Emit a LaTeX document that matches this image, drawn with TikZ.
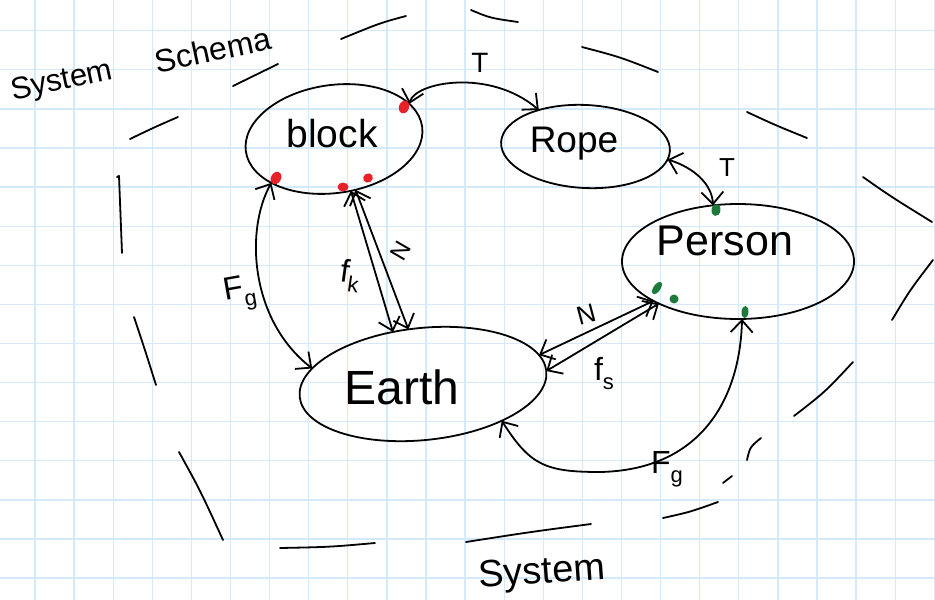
\documentclass[tikz,border=0pt]{standalone}
\usepackage{fontspec}
\setmainfont{Liberation Sans}
\usetikzlibrary{shapes.geometric,arrows.meta}
\definecolor{gridblue}{RGB}{212,234,250}
\definecolor{inkred}{RGB}{232,32,40}
\definecolor{inkgreen}{RGB}{30,122,58}
\newcommand\penfont[1]{\fontsize{#1}{#1}\selectfont}
\newcommand\lowidx[1]{\raisebox{-0.28em}{\penfont{22}#1}}
\begin{document}
\begin{tikzpicture}[x=1pt,y=-1pt,
  gridline/.style={draw=gridblue, line width=1.3pt},
  pen/.style={line width=1.8pt, line cap=round, line join=round},
  body/.style={pen, draw, ellipse, inner sep=0pt, outer sep=0pt},
  link/.style={pen, draw, arrows={Straight Barb[length=12pt,width=22pt]-Straight Barb[length=12pt,width=22pt]}},
  hand/.style={inner sep=0pt, outer sep=0pt}]

% paper
\fill[white] (0,0) rectangle (935,600);
\useasboundingbox (0,0) rectangle (935,600);
\foreach \i in {0,...,23} \draw[gridline] ({35+39.1*\i},0) -- ({35+39.1*\i},600);
\foreach \j in {0,...,14} \draw[gridline] (0,{30.7+39.1*\j}) -- (935,{30.7+39.1*\j});

% objects of the system
\node[body, minimum width=178pt, minimum height=108pt, rotate=8] (block) at (334,139) {};
\node[body, minimum width=169pt, minimum height=83pt, rotate=-3] (rope) at (585.5,146.5) {};
\node[body, minimum width=232pt, minimum height=115pt] (person) at (738,261.5) {};
\node[body, minimum width=248pt, minimum height=112pt, rotate=6] (earth) at (423,384) {};

\node[hand, font=\penfont{39}] (blocktxt) at (332,134) {block};
\node[hand, font=\penfont{37}] (ropetxt) at (574,144) {Rope};
\node[hand, font=\penfont{43}] (persontxt) at (725,241) {Person};
\node[hand, font=\penfont{48}] (earthtxt) at (402,387) {Earth};

% interactions
\draw[link] (block.17) .. controls (415,82) and (490,68) .. (rope.145);
\draw[link] (rope.-6) .. controls (695,168) and (712,185) .. (person.114);
\draw[link] (block.207) .. controls (245,230) and (250,320) .. (earth.166);
\draw[link] (block.-80) -- (earth.114);
\draw[link] (block.-75) -- (earth.99);
\draw[link] (earth.8) -- (person.205);
\draw[link] (earth.0) -- (person.208);
\draw[link] (earth.-31) .. controls (530,465) and (545,472) .. (600,472)
  .. controls (700,470) and (740,400) .. (person.-86);

% force labels
\node[hand, font=\penfont{28}] (tA) at (480,63) {T};
\node[hand, font=\penfont{26}] (tB) at (727,168) {T};
\node[hand, font=\penfont{32}, rotate=10] (fgA) at (240,294) {F\lowidx{g}};
\node[hand, font=\penfont{32}, rotate=-8] (fk) at (350,276) {f\lowidx{k}};
\node[hand, font=\penfont{24}, rotate=60] (nA) at (401,251) {N};
\node[hand, font=\penfont{26}, rotate=15] (nB) at (586,314) {N};
\node[hand, font=\penfont{32}] (fs) at (604,374) {f\lowidx{s}};
\node[hand, font=\penfont{32}] (fgB) at (667,469) {F\lowidx{g}};

% contact points
\fill[inkred, rotate around={70:(404,107)}] (404,107) ellipse [x radius=6.5pt, y radius=5pt];
\fill[inkred, rotate around={60:(276,178)}] (276,178) ellipse [x radius=6.5pt, y radius=5pt];
\fill[inkred] (343,187) ellipse [x radius=5.5pt, y radius=4.5pt];
\fill[inkred, rotate around={30:(368,178)}] (368,178) ellipse [x radius=5pt, y radius=4.5pt];
\fill[inkgreen, rotate around={80:(716,210)}] (716,210) ellipse [x radius=6pt, y radius=4.5pt];
\fill[inkgreen, rotate around={55:(657,288)}] (657,288) ellipse [x radius=7pt, y radius=3.5pt];
\fill[inkgreen] (674,299) ellipse [x radius=4.5pt, y radius=4.5pt];
\fill[inkgreen, rotate around={85:(745,312)}] (745,312) ellipse [x radius=6pt, y radius=3.5pt];

% system boundary
\begin{scope}[pen]
\draw (341,39) .. controls (380,23) .. (406,16);
\draw (471,10) .. controls (490,18) .. (518,22);
\draw (582,47) .. controls (620,57) .. (658,72);
\draw (747,112) .. controls (775,125) .. (807,138);
\draw (863,177) .. controls (890,196) .. (932,222);
\draw (933,260) .. controls (910,290) .. (892,320);
\draw (853,362) .. controls (825,392) .. (794,416);
\draw (761,438) .. controls (750,447) .. (747,460);
\draw (723,483) -- (732,476);
\draw (718,502) .. controls (690,512) .. (663,518);
\draw (591,524) .. controls (530,532) .. (466,542);
\draw (375,543) .. controls (330,547) .. (280,548);
\draw (223,540) .. controls (200,490) .. (179,452);
\draw (156,385) .. controls (145,350) .. (134,317);
\draw (117,177) -- (119,176) .. controls (120,215) .. (122,253);
\draw (130,139) .. controls (155,127) .. (178,117);
\draw (233,86) .. controls (255,75) .. (278,64);
\end{scope}

\node[hand, font=\penfont{31}, rotate=12] (systemA) at (62,82) {System};
\node[hand, font=\penfont{32}, rotate=12] (schemaA) at (213,50) {Schema};
\node[hand, font=\penfont{38}, rotate=4] (systemB) at (542,574) {System};
\end{tikzpicture}
\end{document}
